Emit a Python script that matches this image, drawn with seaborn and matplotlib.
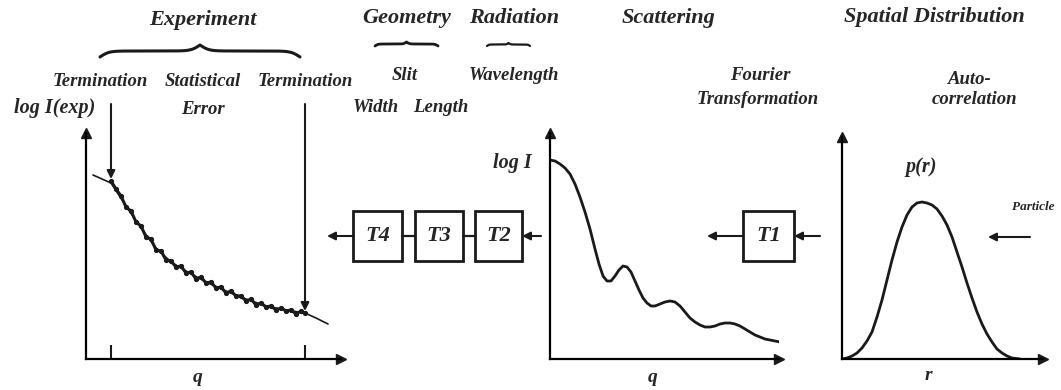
import numpy as np
import matplotlib
matplotlib.use('agg')
import matplotlib.pyplot as plt
import seaborn as sns
from matplotlib.patches import Rectangle

## ---- values (arbitrary units) ----
# experiment: smooth curve and measured (noisy) points
q_fit = [0.07, 0.25, 0.40, 0.55, 0.70, 0.85, 1.00, 1.20, 1.40, 1.60, 1.80, 2.00, 2.19, 2.30, 2.42]
logI_fit = [1.84, 1.76, 1.53, 1.31, 1.11, 0.97, 0.88, 0.77, 0.68, 0.60, 0.53, 0.49, 0.46, 0.41, 0.35]
q_meas = [0.25, 0.30, 0.35, 0.40, 0.45, 0.50, 0.55, 0.60, 0.65, 0.70, 0.75, 0.80, 0.85, 0.90,
          0.95, 1.00, 1.05, 1.10, 1.15, 1.20, 1.25, 1.30, 1.35, 1.40, 1.45, 1.50, 1.55, 1.60,
          1.65, 1.70, 1.75, 1.80, 1.85, 1.90, 1.95, 2.00, 2.05, 2.10, 2.15, 2.19]
logI_meas = [1.78, 1.70, 1.63, 1.52, 1.48, 1.37, 1.33, 1.22, 1.20, 1.09, 1.08, 0.99, 0.98, 0.92,
             0.93, 0.86, 0.87, 0.80, 0.82, 0.76, 0.77, 0.71, 0.72, 0.66, 0.68, 0.63, 0.63, 0.58,
             0.60, 0.54, 0.56, 0.52, 0.53, 0.49, 0.51, 0.48, 0.49, 0.45, 0.48, 0.46]

# ideal scattering curve
q_ideal = [0, .05, .10, .15, .20, .25, .30, .35, .40, .45, .49, .53, .57, .61, .65, .69, .73, .77,
           .81, .85, .89, .93, .97, 1.01, 1.05, 1.10, 1.15, 1.20, 1.25, 1.30, 1.35, 1.40, 1.45,
           1.50, 1.55, 1.60, 1.65, 1.70, 1.75, 1.80, 1.85, 1.90, 1.95, 2.00, 2.05, 2.10, 2.15,
           2.20, 2.25, 2.30]
logI_ideal = [1.99, 1.98, 1.95, 1.91, 1.85, 1.75, 1.62, 1.47, 1.30, 1.10, .95, .83, .78, .78, .83,
              .89, .93, .92, .87, .78, .69, .61, .56, .53, .53, .55, .57, .58, .57, .53, .47, .41,
              .37, .34, .32, .32, .33, .35, .36, .36, .35, .33, .30, .27, .24, .22, .20, .19, .18, .17]

# distance distribution
r_vals = [0, .05, .10, .15, .20, .25, .30, .35, .40, .45, .50, .55, .60, .65, .70, .75, .80, .85,
          .90, .95, 1.00, 1.05, 1.10, 1.15, 1.20, 1.25, 1.30, 1.35, 1.40, 1.45, 1.50, 1.55, 1.60,
          1.65, 1.70, 1.78]
p_vals = [0, .01, .03, .06, .11, .18, .27, .42, .59, .79, .99, 1.17, 1.32, 1.44, 1.52, 1.56, 1.57,
          1.56, 1.54, 1.50, 1.43, 1.34, 1.22, 1.07, .92, .76, .61, .47, .35, .25, .17, .10, .06,
          .03, .01, 0]

W, H = 1061, 390

sns.set_theme(style='white')
plt.rcParams['font.family'] = ['Liberation Serif', 'DejaVu Serif']
plt.rcParams['font.weight'] = 'bold'
plt.rcParams['font.style'] = 'italic'
plt.rcParams['lines.solid_joinstyle'] = 'round'
plt.rcParams['lines.solid_capstyle'] = 'round'

fig = plt.figure(figsize=(W / 100, H / 100), dpi=100)
fig.patch.set_facecolor('white')
bg = fig.add_axes([0, 0, 1, 1])
bg.set_xlim(0, W)
bg.set_ylim(H, 0)
bg.axis('off')


def px_axes(x0, y_bot, x1, y_top):
    ax = fig.add_axes([x0 / W, 1 - y_bot / H, (x1 - x0) / W, (y_bot - y_top) / H])
    ax.set_xlim(0, (x1 - x0) / 100)
    ax.set_ylim(0, (y_bot - y_top) / 100)
    ax.patch.set_alpha(0)
    for s in ['top', 'right']:
        ax.spines[s].set_visible(False)
    for s in ['left', 'bottom']:
        ax.spines[s].set_visible(True)
        ax.spines[s].set_color('black')
        ax.spines[s].set_linewidth(1.6)
    ax.plot(1, 0, '>', color='k', ms=7, transform=ax.transAxes, clip_on=False)
    ax.plot(0, 1, '^', color='k', ms=7, transform=ax.transAxes, clip_on=False)
    ax.set_xticks([])
    ax.set_yticks([])
    ax.set(xlabel='', ylabel='')
    return ax


def brace(x0, x1, y, h, lw):
    n = 201
    t = np.linspace(0, 1, n)
    half = t[:n // 2 + 1]
    beta = 45
    yh = 1 / (1 + np.exp(-beta * (half - half[0]))) + 1 / (1 + np.exp(-beta * (half - half[-1])))
    yy = np.concatenate([yh, yh[-2::-1]]) - 0.5
    bg.plot(x0 + t * (x1 - x0), y - h * yy, color='k', lw=lw)


def arrow(x0, y0, x1, y1, lw=1.5):
    bg.annotate('', xy=(x1, y1), xytext=(x0, y0),
                arrowprops=dict(arrowstyle='-|>', color='k', lw=lw, mutation_scale=12,
                                shrinkA=0, shrinkB=0))


## ---- experiment panel ----
a = px_axes(86, 359, 341, 133)
sns.lineplot(x=q_fit, y=logI_fit, ax=a, color='k', lw=1.2)
sns.lineplot(x=q_meas, y=logI_meas, ax=a, color='k', lw=2.2, marker='o', ms=3, mec='k')
a.set_xticks([q_meas[0], q_meas[-1]])
a.tick_params(axis='x', bottom=True, direction='in', length=10, width=1.5, colors='k', labelbottom=False)

## ---- scattering panel ----
b = px_axes(550, 359, 779, 133)
sns.lineplot(x=q_ideal, y=logI_ideal, ax=b, color='k', lw=2.0)

## ---- p(r) panel ----
c = px_axes(842, 359, 1043, 137)
sns.lineplot(x=r_vals, y=p_vals, ax=c, color='k', lw=2.0)

## ---- headings ----
hs = 16
bg.text(203, 20, 'Experiment', fontsize=hs, ha='center', va='center')
bg.text(407, 18, 'Geometry', fontsize=hs, ha='center', va='center')
bg.text(514, 18, 'Radiation', fontsize=hs, ha='center', va='center')
bg.text(668, 18, 'Scattering', fontsize=hs, ha='center', va='center')
bg.text(934, 17, 'Spatial Distribution', fontsize=hs, ha='center', va='center')

brace(100, 300, 57, 12, 2.2)
brace(375, 438, 46, 4, 2.0)
brace(487, 530, 46, 3, 1.6)

## ---- sub labels ----
ss = 13.5
bg.text(100, 82, 'Termination', fontsize=ss, ha='center', va='center')
bg.text(203, 82, 'Statistical', fontsize=ss, ha='center', va='center')
bg.text(203, 110, 'Error', fontsize=ss, ha='center', va='center')
bg.text(305, 82, 'Termination', fontsize=ss, ha='center', va='center')
bg.text(55, 108, 'log I(exp)', fontsize=14.5, ha='center', va='center')
bg.text(405, 75, 'Slit', fontsize=ss, ha='center', va='center')
bg.text(376, 108, 'Width', fontsize=ss, ha='center', va='center')
bg.text(441, 108, 'Length', fontsize=ss, ha='center', va='center')
bg.text(514, 75, 'Wavelength', fontsize=ss, ha='center', va='center')
bg.text(760, 75, 'Fourier', fontsize=ss, ha='center', va='center')
bg.text(758, 100, 'Transformation', fontsize=ss, ha='center', va='center')
bg.text(970, 80, 'Auto-', fontsize=ss, ha='center', va='center')
bg.text(974, 100, 'correlation', fontsize=ss, ha='center', va='center')
bg.text(512, 163, 'log I', fontsize=14.5, ha='center', va='center')
bg.text(921, 167, 'p(r)', fontsize=14.5, ha='center', va='center')
bg.text(1012, 207, 'Particle', fontsize=9.5, ha='left', va='center')
bg.text(198, 378, 'q', fontsize=14, ha='center', va='center')
bg.text(653, 377, 'q', fontsize=14, ha='center', va='center')
bg.text(928, 376, 'r', fontsize=14, ha='center', va='center')

## ---- termination arrows ----
arrow(111, 104, 111, 179)
arrow(305, 104, 305, 311)

## ---- transformation boxes ----
yb0, yb1 = 211, 261
ym = (yb0 + yb1) / 2
boxes = [('T4', 353, 402), ('T3', 415, 463), ('T2', 475, 522), ('T1', 743, 794)]
for lab, x0, x1 in boxes:
    bg.add_patch(Rectangle((x0, yb0), x1 - x0, yb1 - yb0, fill=False, ec='k', lw=2.0))
    bg.text((x0 + x1) / 2, ym, lab, fontsize=16, ha='center', va='center')
bg.plot([402, 415], [ym, ym], color='k', lw=1.6)
bg.plot([463, 475], [ym, ym], color='k', lw=1.6)
arrow(353, ym, 327, ym)
arrow(541, ym, 522, ym)
arrow(743, ym, 707, ym)
arrow(820, ym, 794, ym)
arrow(1030, 237, 988, 237)

plt.savefig('out.png', dpi=100, facecolor='white')
